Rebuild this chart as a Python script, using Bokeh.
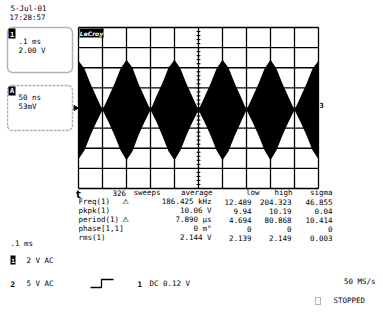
from bokeh.plotting import figure
from bokeh.models import Range1d, Label, BoxAnnotation
from bokeh.embed import file_html
from bokeh.resources import INLINE

grid_t = [0.0, 0.1, 0.2, 0.3, 0.4, 0.5, 0.6, 0.7, 0.8, 0.9, 1.0]   # ms  (.1 ms/div)
grid_v = [-8, -6, -4, -2, 0, 2, 4, 6, 8]                            # V   (2 V/div)

env_t = [0.000, 0.025, 0.050, 0.075, 0.100, 0.125, 0.150, 0.175,
         0.200, 0.225, 0.250, 0.275, 0.300, 0.325, 0.350, 0.375,
         0.400, 0.425, 0.450, 0.475, 0.500, 0.525, 0.550, 0.575,
         0.600, 0.625, 0.650, 0.675, 0.700, 0.725, 0.750, 0.775,
         0.800, 0.825, 0.850, 0.875, 0.900, 0.925, 0.950, 0.975, 1.000]
env_hi = [4.7, 3.9, 2.4, 1.1, -0.2, 1.1, 2.4, 3.9,
          4.8, 4.0, 2.4, 1.1, -0.2, 1.2, 2.5, 4.0,
          4.8, 3.9, 2.4, 1.1, -0.2, 1.1, 2.4, 3.9,
          4.8, 4.0, 2.5, 1.2, -0.2, 1.1, 2.4, 3.9,
          4.8, 3.9, 2.4, 1.1, -0.2, 1.1, 2.4, 3.9, 4.7]
env_lo = [-5.1, -4.2, -2.7, -1.4, -0.2, -1.4, -2.7, -4.2,
          -5.2, -4.3, -2.7, -1.4, -0.2, -1.4, -2.8, -4.3,
          -5.2, -4.2, -2.7, -1.4, -0.2, -1.4, -2.7, -4.2,
          -5.2, -4.3, -2.8, -1.5, -0.2, -1.4, -2.7, -4.2,
          -5.2, -4.2, -2.7, -1.4, -0.2, -1.4, -2.7, -4.2, -5.1]

stat_header = ["average", "low", "high", "sigma"]
sweeps = ["326", "sweeps"]
stat_rows = ["Freq(1)", "pkpk(1)", "period(1)", "phase[1,1]", "rms(1)"]
stat_flag = ["\u26a0", "", "\u26a0", "", ""]
stat_avg = ["186.425 kHz", "10.06 V", "7.890 \u00b5s", "0 m\u00b0", "2.144 V"]
stat_low = ["12.489", "9.94", "4.694", "0", "2.139"]
stat_high = ["204.323", "10.19", "80.868", "0", "2.149"]
stat_sigma = ["46.855", "0.04", "10.414", "0", "0.003"]

date_txt = "5-Jul-01"
time_txt = "17:28:57"
ch1_box = [".1 ms", "2.00 V"]
zoomA_box = ["50 ns", "53mV"]

# ---------------- geometry (page pixels) ----------------
W, H = 383, 310
GX0, GX1, GY0, GY1 = 78, 318, 27, 188         # graticule in page pixels
t_per_px = (grid_t[-1] - grid_t[0]) / (GX1 - GX0)
v_per_px = (grid_v[-1] - grid_v[0]) / (GY1 - GY0)
v_mid_px = (GY0 + GY1) / 2

p = figure(width=W, height=H,
           x_range=Range1d(0, W), y_range=Range1d(H, 0),
           x_axis_type=None, y_axis_type=None,
           toolbar_location=None, output_backend="svg",
           min_border=0, outline_line_color=None)
p.grid.visible = False
p.background_fill_color = "white"
p.border_fill_color = "white"

p.extra_x_ranges = {"t": Range1d(grid_t[0] - GX0 * t_per_px,
                                 grid_t[0] + (W - GX0) * t_per_px)}
p.extra_y_ranges = {"v": Range1d((v_mid_px - H) * v_per_px,
                                 v_mid_px * v_per_px)}

INK = "#000000"
MONO = "DejaVu Sans Mono"

# waveform (dense carrier -> filled envelope)
p.varea(x=env_t, y1=env_lo, y2=env_hi, fill_color=INK,
        x_range_name="t", y_range_name="v")

# graticule
p.segment(x0=grid_t, y0=[grid_v[0]] * len(grid_t), x1=grid_t, y1=[grid_v[-1]] * len(grid_t),
          line_color=INK, line_width=1.3, x_range_name="t", y_range_name="v")
p.segment(x0=[grid_t[0]] * len(grid_v), y0=grid_v, x1=[grid_t[-1]] * len(grid_v), y1=grid_v,
          line_color=INK, line_width=1.3, x_range_name="t", y_range_name="v")
# minor ticks on centre vertical line
tick_v = [grid_v[0] + 0.4 * i for i in range(41)]
tmid = grid_t[len(grid_t) // 2]
p.segment(x0=[tmid - 0.008] * len(tick_v), y0=tick_v, x1=[tmid + 0.008] * len(tick_v), y1=tick_v,
          line_color=INK, line_width=1, x_range_name="t", y_range_name="v")


def lbl(x, y, text, size="7.5px", align="left", color=INK, style="normal", font=MONO):
    p.add_layout(Label(x=x, y=y, text=text, text_font=font, text_font_size=size,
                       text_align=align, text_baseline="middle", text_color=color,
                       text_font_style=style))


# LeCroy logo
p.add_layout(BoxAnnotation(left=79, right=103, top=28, bottom=37, fill_color=INK,
                           fill_alpha=1, line_color=None))
lbl(91, 32.5, "LeCroy", size="6px", align="center", color="white", style="bold italic",
    font="DejaVu Sans")

# ground marker left, trigger-level marker right, trigger-time marker bottom
p.scatter(x=[75], y=[0], marker="triangle", angle=-1.5708, size=5, color=INK,
          y_range_name="v")
lbl(321, 104, "3", size="7px", align="center", style="bold")
lbl(78, 194, "t", size="10px", align="center", style="bold", font="DejaVu Sans")

# date / time
lbl(28, 8, date_txt, align="center")
lbl(27, 17, time_txt, align="center")

# channel 1 box
p.add_layout(BoxAnnotation(left=7, right=72, top=27, bottom=72, fill_alpha=0,
                           line_color=INK, line_width=1.5, border_radius=5))
p.add_layout(BoxAnnotation(left=8, right=15, top=28, bottom=38, fill_color=INK,
                           fill_alpha=1, line_color=None))
lbl(11.5, 33, "1", size="7px", align="center", color="white", style="bold")
lbl(18, 41, ch1_box[0])
lbl(18, 50, ch1_box[1])

# zoom A box
p.add_layout(BoxAnnotation(left=7, right=72, top=85, bottom=130, fill_alpha=0,
                           line_color=INK, line_width=1.5, line_dash="3 1", border_radius=5))
p.add_layout(BoxAnnotation(left=8, right=15, top=86, bottom=95, fill_color=INK,
                           fill_alpha=1, line_color=None))
lbl(11.5, 90.5, "A", size="7px", align="center", color="white", style="bold")
lbl(18, 97, zoomA_box[0])
lbl(18, 106, zoomA_box[1])

# statistics table
ROW0, DY = 192, 9
lbl(112, ROW0, sweeps[0])
lbl(133, ROW0, sweeps[1])
head_right = [212, 259, 292, 332]
col_right = [211, 251, 291, 332]
for h, xr in zip(stat_header, head_right):
    lbl(xr, ROW0, h, align="right")
for i, name in enumerate(stat_rows):
    y = ROW0 + DY * (i + 1)
    lbl(78, y, name)
    if stat_flag[i]:
        lbl(125, y, stat_flag[i], align="center", style="bold", font="DejaVu Sans")
    lbl(col_right[0], y, stat_avg[i], align="right")
    lbl(col_right[1], y, stat_low[i], align="right")
    lbl(col_right[2], y, stat_high[i], align="right")
    lbl(col_right[3], y, stat_sigma[i], align="right")

# bottom status area
lbl(10, 243, ".1 ms")
p.add_layout(BoxAnnotation(left=10, right=15, top=255, bottom=264, fill_color=INK,
                           fill_alpha=1, line_color=None))
lbl(12.5, 259.5, "1", size="6px", align="center", color="white", style="bold")
lbl(26, 259.5, "2  V  AC")
lbl(10, 283, "2", style="bold")
lbl(26, 283, "5  V  AC")
p.line(x=[90, 101, 101, 113], y=[287, 287, 279, 279], line_color=INK, line_width=1.3)
lbl(137, 283, "1", style="bold")
lbl(149, 283, "DC 0.12 V")
lbl(375, 281, "50 MS/s", align="right")
p.add_layout(BoxAnnotation(left=315, right=320, top=297, bottom=304, fill_alpha=0,
                           line_color=INK, line_width=1))
lbl(333, 300, "STOPPED")

open("out.html", "w").write(file_html(p, INLINE))
